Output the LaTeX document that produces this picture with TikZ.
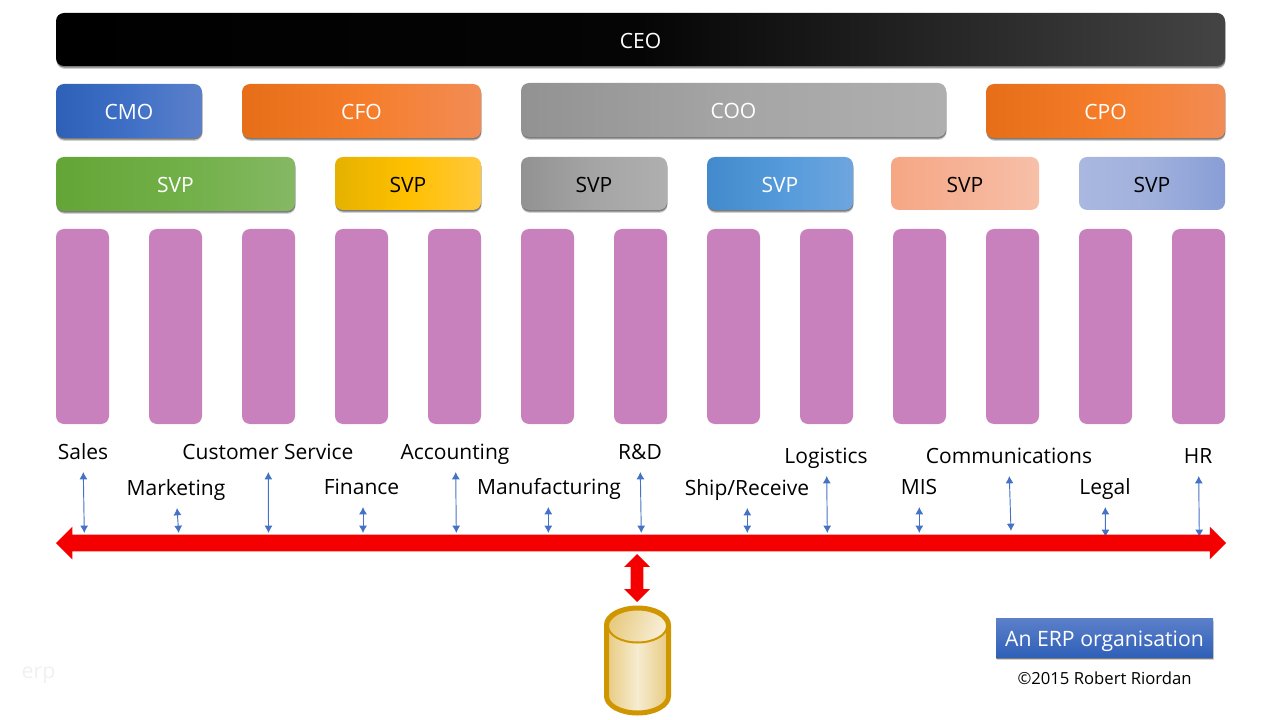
\documentclass[tikz,border=0pt]{standalone}
\usepackage{fontspec}
\setmainfont{Open Sans}
\usetikzlibrary{arrows.meta,shadows,shapes.arrows}
\definecolor{MyPink}{RGB}{201, 129, 189}
\definecolor{MyBlue}{RGB}{68, 114, 196}
\definecolor{MyRed}{RGB}{245, 0, 0}
\definecolor{MyGold}{RGB}{208, 150, 0}
\definecolor{BlueA}{RGB}{47, 96, 184}
\definecolor{BlueB}{RGB}{63, 112, 198}
\definecolor{BlueC}{RGB}{92, 128, 202}
\definecolor{OrangeA}{RGB}{230, 110, 24}
\definecolor{OrangeB}{RGB}{245, 125, 42}
\definecolor{OrangeC}{RGB}{242, 140, 85}
\definecolor{GreyA}{RGB}{146, 146, 146}
\definecolor{GreyB}{RGB}{165, 165, 165}
\definecolor{GreyC}{RGB}{175, 175, 175}
\definecolor{GreenA}{RGB}{100, 165, 55}
\definecolor{GreenB}{RGB}{112, 175, 70}
\definecolor{GreenC}{RGB}{133, 184, 100}
\definecolor{YellowA}{RGB}{229, 178, 0}
\definecolor{YellowB}{RGB}{255, 192, 0}
\definecolor{YellowC}{RGB}{255, 200, 60}
\definecolor{SkyA}{RGB}{66, 138, 203}
\definecolor{SkyB}{RGB}{84, 154, 219}
\definecolor{SkyC}{RGB}{110, 165, 222}
\definecolor{PeachA}{RGB}{246, 167, 132}
\definecolor{PeachB}{RGB}{246, 178, 150}
\definecolor{PeachC}{RGB}{247, 192, 168}
\definecolor{LilacA}{RGB}{170, 184, 224}
\definecolor{LilacB}{RGB}{160, 176, 220}
\definecolor{LilacC}{RGB}{136, 158, 214}
\definecolor{SoftBlack}{RGB}{68, 68, 68}
\definecolor{DarkBlack}{RGB}{5, 5, 5}
\begin{document}
\begin{tikzpicture}[x=0.75pt,y=-0.75pt,
  barbox/.style={rectangle, rounded corners=6pt, inner sep=0, font=\fontsize{15.8}{18}\selectfont, text=white, text height=13.3pt, text depth=0pt, minimum height=54*0.75pt},
  lifted/.style={general shadow={shadow xshift=0.4pt, shadow yshift=-2.2pt, fill=black, opacity=0.18}, general shadow={shadow xshift=0.3pt, shadow yshift=-1.2pt, fill=black, opacity=0.4}},
  grad/.style={left color=#1A, right color=#1C, middle color=#1B},
  dept/.style={rectangle, rounded corners=6pt, fill=MyPink, inner sep=0, minimum width=53*0.75pt, minimum height=195*0.75pt},
  lbl/.style={anchor=base, inner sep=0, font=\fontsize{15.75}{18}\selectfont},
  link/.style={{Latex[length=5.5pt,width=6pt]}-{Latex[length=5.5pt,width=6pt]}, MyBlue, line width=0.7pt},
  redarrow/.style={shape=double arrow, fill=MyRed, double arrow head indent=0pt}]
\useasboundingbox (0,0) rectangle (1280,720);
% top rows
\node[barbox, lifted, left color=black, right color=SoftBlack, middle color=DarkBlack, minimum width=1169*0.75pt, minimum height=53*0.75pt] (ceo) at (640.5,39.5) {CEO};
\node[barbox, lifted, grad=Blue, minimum width=146*0.75pt] (cmo) at (129,111) {CMO};
\node[barbox, lifted, grad=Orange, minimum width=239*0.75pt] (cfo) at (361.5,111) {CFO};
\node[barbox, lifted, grad=Grey, minimum width=425*0.75pt] (coo) at (733.5,110) {COO};
\node[barbox, lifted, grad=Orange, minimum width=239*0.75pt] (cpo) at (1105.5,111) {CPO};
% svp row
\node[barbox, lifted, grad=Green, minimum width=239*0.75pt] (svpa) at (175.5,184) {SVP};
\node[barbox, lifted, text=black, grad=Yellow, minimum width=146*0.75pt, minimum height=53*0.75pt] (svpb) at (408,183.5) {SVP};
\node[barbox, lifted, text=black, grad=Grey, minimum width=146*0.75pt, minimum height=53*0.75pt] (svpc) at (594,183.5) {SVP};
\node[barbox, lifted, grad=Sky, minimum width=146*0.75pt, minimum height=53*0.75pt] (svpd) at (780,183.5) {SVP};
\node[barbox, text=black, grad=Peach, minimum width=148*0.75pt, minimum height=53*0.75pt] (svpe) at (965,183.5) {SVP};
\node[barbox, text=black, grad=Lilac, minimum width=146*0.75pt, minimum height=53*0.75pt] (svpf) at (1152,183.5) {SVP};
% department columns
\foreach \x in {0,...,12}{
\node[dept] (col\x) at ({82.5+93*\x},326.5) {};
}
% labels and their arrows, the bar goes on top of the arrow ends
\foreach \nm/\txt/\lx/\ly/\tx/\ty/\bx/\by in {
  sales/Sales/83/459/83.3/472/84.3/533,
  mktg/Marketing/176/495/177/508/178.7/533,
  csrv/Customer Service/268/459/268.3/472/268.5/533,
  fin/Finance/361.5/494/363/507/363/533,
  acct/Accounting/455/459/455.7/472/456.3/533,
  manu/Manufacturing/549/494/548.3/507/548.3/533,
  rnd/R\&D/640/459/640.3/472/641.3/533,
  ship/{Ship/Receive}/747/495/747.3/508/747.3/533,
  logi/Logistics/826/463/826.7/476/827.3/533,
  mis/MIS/919/494/919.3/507/919.3/533,
  comm/Communications/1009/463/1009.3/476/1011/531,
  legal/Legal/1105/494/1105.3/507/1105.5/537,
  hr/HR/1198/463/1198.7/476/1199.3/537}{
\node[lbl] (\nm) at (\lx,\ly) {\txt};
\coordinate (\nm top) at (\tx,\ty);
\coordinate (\nm bar) at (\bx,\by);
\draw[link] (\nm top) -- (\nm bar);
}
% bus and database
\node[redarrow, inner xsep=0pt, inner ysep=6pt, minimum height=1170*0.75pt, double arrow head extend=6pt] (bus) at (641,543) {};
\node[redarrow, rotate=90, inner xsep=0pt, inner ysep=4.5pt, minimum height=48*0.75pt, double arrow head extend=5pt] (buslink) at (637,578) {};
\path[draw=MyGold, line width=3.75pt, left color=MyGold!50!white, right color=MyGold!50!white, middle color=MyGold!18!white]
  (606.5,625) -- (606.5,696) arc[start angle=180, end angle=0, x radius=31, y radius=17] -- (668.5,625) arc[start angle=0, end angle=-180, x radius=31, y radius=17] -- cycle;
\path[draw=MyGold, line width=1.5pt, shading=axis, left color=MyGold!50!white, right color=MyGold!15!white, shading angle=70]
  (637.5,626) ellipse[x radius=29.5, y radius=16.5];
% caption
\node[rectangle, inner sep=0, lifted, text=white, font=\fontsize{15.9}{18}\selectfont, text height=12.8pt, text depth=0pt, top color=BlueC, bottom color=BlueA, minimum width=217*0.75pt, minimum height=39*0.75pt] (title) at (1104.5,637.5) {An ERP organisation};
\node[inner sep=0, font=\fontsize{12.5}{14}\selectfont] (copy) at (1104.5,678) {©2015 Robert Riordan};
\node[inner sep=0, text=black!6, font=\fontsize{16}{18}\selectfont] (erp) at (38.5,675) {erp};
\end{tikzpicture}
\end{document}
